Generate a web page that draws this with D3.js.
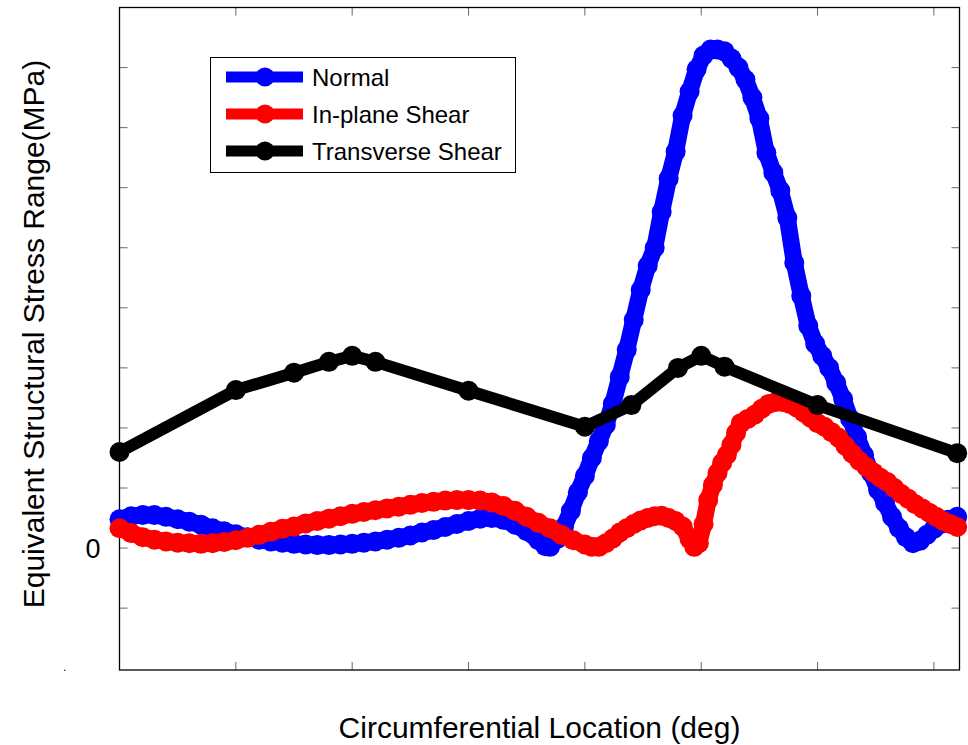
<!DOCTYPE html>
<html>
<head>
    <script src="https://cdnjs.cloudflare.com/ajax/libs/d3/7.8.5/d3.min.js"></script>
    <style>
        body { margin: 0; background: #fff; }
        text { font-family: "Liberation Sans", Arial, sans-serif; fill: #000; }
        .tick-line { stroke: #666; stroke-width: 1px; }
    </style>
</head>
<body>
    <div id="chart"></div>
    <script>
        const width = 968, height = 745;

        // Normal stress range, [deg, MPa]
        const normalData = [
            [0,0.48],[5,0.53],[10,0.55],[15,0.55],[20,0.52],[25,0.48],[30,0.44],[35,0.39],[40,0.33],
            [45,0.28],[50,0.23],[55,0.18],[60,0.14],[65,0.11],[70,0.09],[75,0.07],[80,0.06],[85,0.05],
            [90,0.05],[95,0.06],[100,0.07],[105,0.09],[110,0.11],[115,0.14],[120,0.17],[125,0.21],
            [130,0.26],[135,0.3],[140,0.35],[145,0.4],[150,0.45],[155,0.49],[160,0.5],[165,0.47],
            [170,0.39],[175,0.28],[180,0.13],[183,0.03],[185,0.02],[188,0.15],[191,0.35],[194,0.62],
            [197,0.93],[200,1.2],[203,1.5],[206,1.78],[209,2.05],[212,2.4],[215,2.85],[218,3.3],
            [221,3.8],[224,4.3],[227,4.7],[230,5.0],[233,5.6],[236,6.15],[239,6.6],[242,7.2],
            [245,7.6],[248,7.97],[251,8.2],[254,8.3],[257,8.3],[260,8.27],[263,8.15],[266,8.0],
            [269,7.8],[272,7.5],[275,7.15],[278,6.58],[281,6.25],[284,5.95],[287,5.5],[290,4.75],
            [293,4.2],[296,3.7],[299,3.4],[302,3.2],[305,3.0],[308,2.75],[311,2.48],[314,2.15],
            [317,1.85],[320,1.55],[323,1.25],[326,0.97],[329,0.75],[332,0.52],[335,0.33],[338,0.18],
            [341,0.08],[344,0.12],[347,0.22],[350,0.32],[353,0.4],[356,0.47],[360,0.52]
        ];

        // In-plane shear stress range
        const inPlaneData = [
            [0,0.33],[5,0.25],[10,0.18],[15,0.14],[20,0.11],[25,0.09],[30,0.08],[35,0.07],[40,0.08],
            [45,0.1],[50,0.13],[55,0.17],[60,0.22],[65,0.27],[70,0.32],[75,0.36],[80,0.41],[85,0.45],
            [90,0.49],[95,0.53],[100,0.57],[105,0.6],[110,0.63],[115,0.66],[120,0.69],[125,0.72],
            [130,0.75],[135,0.77],[140,0.79],[145,0.8],[150,0.8],[155,0.79],[160,0.76],[165,0.7],
            [170,0.62],[175,0.52],[180,0.42],[185,0.33],[190,0.22],[195,0.13],[200,0.06],[203,0.02],
            [206,0.02],[209,0.08],[212,0.16],[215,0.26],[218,0.33],[221,0.4],[224,0.46],[227,0.5],
            [230,0.53],[233,0.54],[236,0.5],[239,0.45],[242,0.36],[245,0.15],[247,0.02],[249,0.08],
            [251,0.4],[253,0.8],[255,1.05],[257,1.25],[259,1.42],[261,1.55],[263,1.72],[265,1.92],
            [267,2.08],[270,2.15],[273,2.22],[276,2.32],[279,2.4],[282,2.43],[285,2.43],[288,2.4],
            [291,2.34],[294,2.26],[297,2.17],[300,2.08],[303,2.02],[306,1.93],[309,1.84],[312,1.7],
            [315,1.57],[318,1.45],[321,1.35],[324,1.26],[327,1.17],[330,1.1],[333,1.0],[336,0.9],
            [339,0.82],[342,0.73],[345,0.66],[348,0.59],[351,0.52],[354,0.45],[357,0.4],[360,0.35]
        ];

        // Transverse shear stress range
        const transverseData = [
            [0,1.6],[50,2.63],[75,2.92],[90,3.1],[100,3.2],[110,3.1],[150,2.62],[200,2.02],
            [220,2.38],[240,3.0],[250,3.2],[260,3.02],[300,2.38],[360,1.58]
        ];

        const seriesNames = ["Normal", "In-plane Shear", "Transverse Shear"];
        const seriesColors = ["#0000ff", "#ff0000", "#000000"];
        const seriesWidths = [17, 17, 12];
        const xTicks = [0, 50, 100, 150, 200, 250, 300, 350];
        const yTicks = [-1, 0, 1, 2, 3, 4, 5, 6, 7, 8];
        const yTickLabels = { 0: "0" };

        const plotLeft = 119.5, plotRight = 959.5, plotTop = 7.5, plotBottom = 670;

        const x = d3.scaleLinear().domain([0, 361]).range([plotLeft, plotRight]);
        const y = d3.scaleLinear().domain([-2.03, 9]).range([plotBottom, plotTop]);

        const svg = d3.select("#chart").append("svg")
            .attr("width", width).attr("height", height);

        // ticks (inside, on all four sides)
        const tickLen = 8;
        const tg = svg.append("g");
        xTicks.forEach(t => {
            tg.append("line").attr("class", "tick-line")
                .attr("x1", x(t)).attr("x2", x(t)).attr("y1", plotBottom).attr("y2", plotBottom - tickLen);
            tg.append("line").attr("class", "tick-line")
                .attr("x1", x(t)).attr("x2", x(t)).attr("y1", plotTop).attr("y2", plotTop + tickLen);
        });
        yTicks.forEach(t => {
            tg.append("line").attr("class", "tick-line")
                .attr("x1", plotLeft).attr("x2", plotLeft + tickLen).attr("y1", y(t)).attr("y2", y(t));
            tg.append("line").attr("class", "tick-line")
                .attr("x1", plotRight).attr("x2", plotRight - tickLen).attr("y1", y(t)).attr("y2", y(t));
            if (yTickLabels[t] !== undefined) {
                svg.append("text")
                    .attr("x", plotLeft - 19).attr("y", y(t) + 10)
                    .attr("text-anchor", "end")
                    .attr("font-size", 27)
                    .text(yTickLabels[t]);
            }
        });

        // frame
        svg.append("rect")
            .attr("x", plotLeft).attr("y", plotTop)
            .attr("width", plotRight - plotLeft).attr("height", plotBottom - plotTop)
            .attr("fill", "none").attr("stroke", "#000").attr("stroke-width", 1.3);

        const line = d3.line().x(d => x(d[0])).y(d => y(d[1]));
        const allSeries = [normalData, inPlaneData, transverseData];

        // Normal first, then In-plane, Transverse on top
        allSeries.forEach((data, i) => {
            const g = svg.append("g");
            g.append("path")
                .datum(data)
                .attr("d", line)
                .attr("fill", "none")
                .attr("stroke", seriesColors[i])
                .attr("stroke-width", seriesWidths[i])
                .attr("stroke-linejoin", "round");
            g.selectAll("circle")
                .data(data)
                .enter().append("circle")
                .attr("cx", d => x(d[0]))
                .attr("cy", d => y(d[1]))
                .attr("r", 10)
                .attr("fill", seriesColors[i]);
        });

        // legend
        const legend = svg.append("g");
        legend.append("rect")
            .attr("x", 210.5).attr("y", 57.5).attr("width", 305).attr("height", 115)
            .attr("fill", "#fff").attr("stroke", "#000").attr("stroke-width", 1);
        seriesNames.forEach((name, i) => {
            const ly = 77 + i * 37;
            legend.append("line")
                .attr("x1", 226).attr("x2", 303).attr("y1", ly).attr("y2", ly)
                .attr("stroke", seriesColors[i]).attr("stroke-width", 11);
            legend.append("circle")
                .attr("cx", 265).attr("cy", ly).attr("r", 9.5)
                .attr("fill", seriesColors[i]);
            legend.append("text")
                .attr("x", 312).attr("y", ly + 8.5)
                .attr("font-size", 24)
                .text(name);
        });

        // axis titles
        svg.append("text")
            .attr("x", (plotLeft + plotRight) / 2).attr("y", 738)
            .attr("text-anchor", "middle")
            .attr("font-size", 30)
            .text("Circumferential Location (deg)");

        svg.append("text")
            .attr("transform", "translate(44,334) rotate(-90)")
            .attr("text-anchor", "middle")
            .attr("font-size", 30)
            .text("Equivalent Structural Stress Range(MPa)");

        svg.append("text")
            .attr("x", 63).attr("y", 671)
            .attr("font-size", 12)
            .text(".");
    </script>
</body>
</html>
